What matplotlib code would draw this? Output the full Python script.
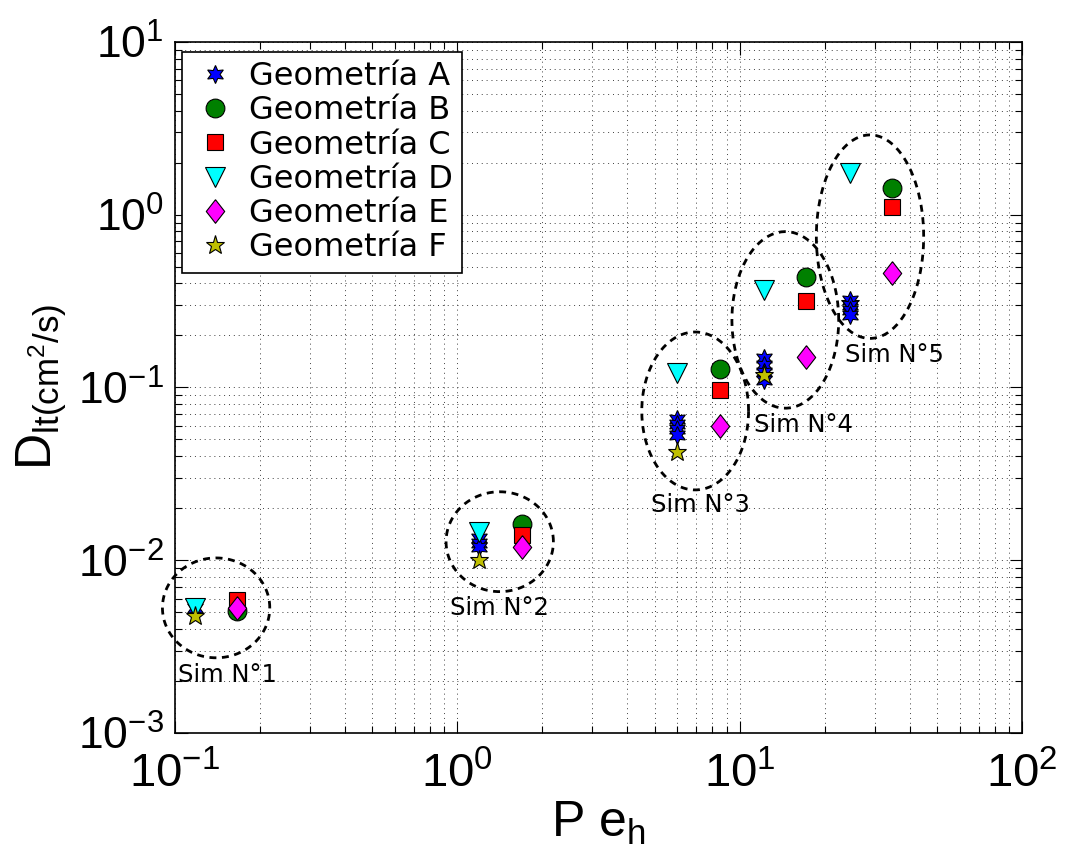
import numpy as np
import matplotlib
matplotlib.use('Agg')
import matplotlib.pyplot as plt

plt.rcParams['font.family'] = ['Liberation Sans', 'DejaVu Sans']
plt.rcParams['mathtext.fontset'] = 'custom'
plt.rcParams['mathtext.rm'] = 'Liberation Sans'
plt.rcParams['mathtext.it'] = 'Liberation Sans'

# data: Pe_h (x) and D_lt (y) for each geometry
xA = [0.118, 1.19, 1.19, 1.19, 5.98, 5.98, 5.98, 5.98, 12.2, 12.2, 12.2, 12.2, 24.6, 24.6, 24.6, 24.6]
yA = [0.0053, 0.0134, 0.0125, 0.0119, 0.0657, 0.0615, 0.0575, 0.0531,
      0.148, 0.135, 0.123, 0.1105, 0.320, 0.300, 0.281, 0.262]
xB = [0.166, 1.69, 8.52, 17.2, 34.6]
yB = [0.0051, 0.0162, 0.1275, 0.4345, 1.42]
xC = [0.166, 1.69, 8.52, 17.2, 34.6]
yC = [0.0059, 0.0140, 0.0967, 0.318, 1.113]
xD = [0.118, 1.19, 5.98, 12.2, 24.6]
yD = [0.0053, 0.0146, 0.1208, 0.3664, 1.738]
xE = [0.166, 1.69, 8.52, 17.2, 34.6]
yE = [0.0053, 0.0120, 0.0599, 0.1508, 0.458]
xF = [0.118, 1.19, 5.98, 12.2, 24.6]
yF = [0.00476, 0.0100, 0.0425, 0.1181, 0.31]

labels = ['Geometría A', 'Geometría B', 'Geometría C', 'Geometría D', 'Geometría E', 'Geometría F']

# dashed ellipses round each simulation (centre in data, half sizes in decades)
sim_names = ['Sim N°1', 'Sim N°2', 'Sim N°3', 'Sim N°4', 'Sim N°5']
ell_cx = [0.140, 1.413, 6.95, 14.49, 28.9]
ell_cy = [0.0053, 0.0128, 0.0731, 0.246, 0.746]
ell_rx = [0.19, 0.19, 0.189, 0.189, 0.19]
ell_ry = [0.289, 0.289, 0.457, 0.511, 0.589]
txt_x = [0.154, 1.405, 7.24, 16.77, 35.2]
txt_y = [0.00217, 0.00529, 0.0209, 0.0607, 0.154]

hexagram = (6, 1, 0)
diamond = [(0, 1), (0.78, 0), (0, -1), (-0.78, 0), (0, 1)]

fig = plt.figure(figsize=(10.66, 8.48), dpi=100)
ax = fig.add_axes([0.164, 0.1356, 0.795, 0.815])

ms_kw = dict(linestyle='none', markeredgecolor='k', markeredgewidth=0.8)
# last F point sits under the A stars in the original
ax.plot(xF[4:], yF[4:], marker='*', color='#bfbf00', markersize=14, zorder=1.9, **ms_kw)
ax.plot(xA, yA, marker=hexagram, color='#0000ff', markersize=13, label=labels[0], **ms_kw)
ax.plot(xB, yB, marker='o', color='#008000', markersize=13.5, label=labels[1], **ms_kw)
ax.plot(xC, yC, marker='s', color='#ff0000', markersize=11, label=labels[2], **ms_kw)
ax.plot(xD, yD, marker='v', color='#00ffff', markersize=15, label=labels[3], **ms_kw)
ax.plot(xE, yE, marker=diamond, color='#ff00ff', markersize=17, label=labels[4], **ms_kw)
ax.plot(xF[:4], yF[:4], marker='*', color='#bfbf00', markersize=14, label=labels[5], **ms_kw)

t = np.linspace(0, 2 * np.pi, 200)
for i in range(5):
    ex = ell_cx[i] * 10 ** (ell_rx[i] * np.cos(t))
    ey = ell_cy[i] * 10 ** (ell_ry[i] * np.sin(t))
    ax.plot(ex, ey, color='k', lw=2, linestyle=(0, (2.5, 2)), clip_on=False)
    ax.text(txt_x[i], txt_y[i], sim_names[i], fontsize=17.5, family='DejaVu Sans',
            ha='center', va='center')

ax.set_xscale('log')
ax.set_yscale('log')
ax.set_xlim(0.1, 100)
ax.set_ylim(1e-3, 10)

ax.grid(True, which='both', color='0.25', linestyle=(0, (1, 4)), linewidth=0.7)
ax.tick_params(which='both', direction='in', top=True, right=True, width=0.8)
ax.tick_params(which='major', length=9)
ax.tick_params(axis='x', which='major', pad=14, labelsize=34)
ax.tick_params(axis='y', which='major', pad=8, labelsize=32)
ax.tick_params(which='minor', length=5)
for s in ax.spines.values():
    s.set_linewidth(1.2)

ax.set_xlabel(r'$\mathregular{P\ e_h}$', fontsize=36, labelpad=2)
ax.set_ylabel(r'$\mathregular{D_{lt(cm^2/s)}}$', fontsize=36, labelpad=6)

leg = ax.legend(loc='upper left', bbox_to_anchor=(0.008, 0.986), borderaxespad=0,
                numpoints=1, fancybox=False, edgecolor='k', framealpha=1,
                prop={'family': 'DejaVu Sans', 'size': 23}, labelspacing=0.1,
                handlelength=1.5, handletextpad=0.3, borderpad=0.3)
leg.get_frame().set_linewidth(1.2)

fig.savefig('out.png', dpi=100)
